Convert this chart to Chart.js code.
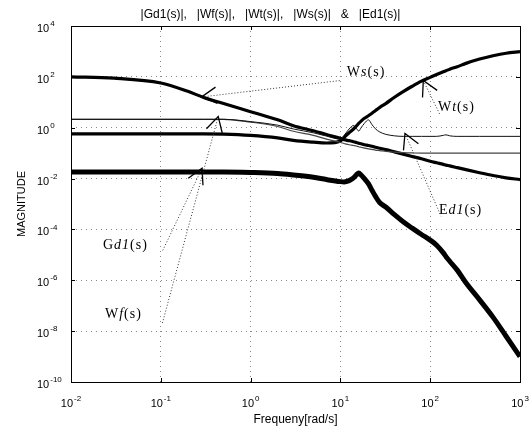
<!DOCTYPE html>
<html lang="en">
<head>
<meta charset="UTF-8" />
<title>|Gd1(s)|, |Wf(s)|, |Wt(s)|, |Ws(s)| &amp; |Ed1(s)|</title>
<script src="https://cdn.jsdelivr.net/npm/chart.js"></script>
<style>
  html, body { margin: 0; padding: 0; background: #fff; }
  #chart { display: block; }
</style>
</head>
<body>
<canvas id="chart" width="531" height="437"></canvas>
<script>
// frequency points [rad/s], shared by all curves
const freq = [0.01, 0.03, 0.1, 0.2, 0.3, 0.5, 1, 2, 3, 5, 7, 10, 11, 12.5, 14, 15, 16, 17, 18.5, 20.5,
              22.5, 24.5, 27.5, 32, 40, 50, 63, 80, 100, 118, 140, 150, 165, 200, 250, 355, 500, 700, 1000];

// |Gd1(s)|
const gd1 = [0.0182, 0.0182, 0.0182, 0.0182, 0.0182, 0.0182, 0.0174, 0.0158, 0.0138, 0.0112, 0.00912, 0.00759,
             0.00741, 0.00832, 0.0107, 0.0138, 0.0166, 0.0138, 0.01, 0.00631, 0.00347, 0.00204, 0.00112, 7.59e-4,
             3.80e-4, 2.0e-4, 1.12e-4, 6.31e-5, 3.80e-5, 2.40e-5, 1.20e-5, 8.51e-6, 5.62e-6, 2.51e-6, 7.94e-7,
             1.70e-7, 3.55e-8, 6.31e-9, 1.0e-9];
// |Wf(s)|
const wf = [2.14, 2.14, 2.14, 2.14, 2.14, 2.14, 1.66, 1.12, 0.724, 0.501, 0.355, 0.263, 0.240, 0.214, 0.2, 0.191,
            0.178, 0.170, 0.158, 0.148, 0.141, 0.132, 0.126, 0.117, 0.110, 0.105, 0.102, 0.1, 0.1, 0.1, 0.1, 0.1,
            0.1, 0.1, 0.1, 0.1, 0.1, 0.1, 0.1];
// |Wt(s)|
const wt = [0.575, 0.575, 0.575, 0.575, 0.575, 0.562, 0.501, 0.398, 0.316, 0.269, 0.251, 0.302, 0.417, 0.631,
            0.891, 1.15, 1.48, 1.82, 2.34, 2.95, 3.72, 4.68, 6.31, 8.91, 15.8, 26.3, 42.7, 67.6, 95.5, 123, 158,
            174, 200, 251, 339, 501, 676, 851, 977];
// |Ws(s)|
const ws = [100, 89.1, 57.5, 26.9, 15.5, 8.91, 4.27, 2.04, 1.2, 0.759, 0.537, 0.380, 0.339, 0.309, 0.282, 0.263,
            0.245, 0.234, 0.214, 0.2, 0.186, 0.170, 0.155, 0.138, 0.112, 0.0912, 0.0741, 0.0603, 0.0479, 0.0417,
            0.0363, 0.0339, 0.0316, 0.0269, 0.0224, 0.0170, 0.0132, 0.0107, 0.00912];
// |Ed1(s)|
const ed1 = [2.14, 2.14, 2.14, 2.14, 2.14, 2.14, 1.74, 1.26, 0.891, 0.631, 0.468, 0.355, 0.501, 0.891, 1.23,
             0.955, 0.741, 1.0, 1.48, 2.04, 1.32, 0.912, 0.676, 0.550, 0.479, 0.457, 0.457, 0.457, 0.457, 0.457,
             0.501, 0.525, 0.479, 0.457, 0.457, 0.457, 0.457, 0.457, 0.457];

// decade exponents of the tick labels
const xTickExps = [-2, -1, 0, 1, 2, 3];
const yTickExps = [4, 2, 0, -2, -4, -6, -8, -10];

const titleText = "|Gd1(s)|,   |Wf(s)|,   |Wt(s)|,   |Ws(s)|   &   |Ed1(s)|";

// curve labels: text pieces (roman / italic), arrow tip, end of dotted leader, text anchor (all in data units)
const notes = [
    { parts: [["W", ""], ["s", "italic "], ["(s)", ""]], tip: [0.285, 16.2], end: [9.9, 71.6], at: [11.8, 148] },
    { parts: [["W", ""], ["t", "italic "], ["(s)", ""]], tip: [83.8, 71.6], end: [128, 3.33], at: [122, 6.25] },
    { parts: [["E", ""], ["d1", "italic "], ["(s)", ""]], tip: [52.4, 0.597], end: [132, 3.3e-4], at: [125, 5.7e-4] },
    { parts: [["G", ""], ["d1", "italic "], ["(s)", ""]], tip: [0.288, 0.0254], end: [0.103, 1.29e-5], at: [0.0227, 2.45e-5] },
    { parts: [["W", ""], ["f", "italic "], ["(s)", ""]], tip: [0.436, 2.77], end: [0.103, 1.78e-8], at: [0.0239, 4.4e-8] },
];

const SANS = "'Liberation Sans', Arial, sans-serif";
const SERIF = "'Liberation Serif', 'Times New Roman', serif";

const toPoints = (vals) => freq.map((f, i) => ({ x: f, y: vals[i] }));

const line = (label, vals, width, color) => ({
    label: label,
    data: toPoints(vals),
    borderColor: color,
    borderWidth: width,
    pointRadius: 0,
    cubicInterpolationMode: "monotone",
    fill: false,
});

const data = {
    datasets: [
        line("Ed1", ed1, 1, "#111"),
        line("Wf", wf, 1.2, "#444"),
        line("Ws", ws, 3.2, "#000"),
        line("Wt", wt, 3.2, "#000"),
        line("Gd1", gd1, 5, "#000"),
    ],
};

function drawPow(ctx, e, x, y, align) {
    ctx.font = "11px " + SANS;
    const wb = ctx.measureText("10").width;
    ctx.font = "8px " + SANS;
    const we = ctx.measureText(String(e)).width;
    const start = align === "center" ? x - (wb + we + 1) / 2 : x;
    ctx.font = "11px " + SANS;
    ctx.fillText("10", start, y);
    ctx.font = "8px " + SANS;
    ctx.fillText(String(e), start + wb + 1, y - 5);
}

const decor = {
    id: "decor",
    afterDraw(chart) {
        const { ctx, chartArea: a } = chart;
        const x = chart.scales.x, y = chart.scales.y;
        ctx.save();

        // box
        ctx.strokeStyle = "#000";
        ctx.lineWidth = 1;
        ctx.setLineDash([]);
        ctx.strokeRect(Math.round(a.left) + 0.5, Math.round(a.top) + 0.5,
                       Math.round(a.right - a.left), Math.round(a.bottom - a.top));

        // small inward ticks
        ctx.beginPath();
        xTickExps.forEach((e) => {
            const px = Math.round(x.getPixelForValue(10 ** e)) + 0.5;
            ctx.moveTo(px, a.bottom); ctx.lineTo(px, a.bottom - 4);
            ctx.moveTo(px, a.top); ctx.lineTo(px, a.top + 4);
        });
        yTickExps.forEach((e) => {
            const py = Math.round(y.getPixelForValue(10 ** e)) + 0.5;
            ctx.moveTo(a.left, py); ctx.lineTo(a.left + 4, py);
            ctx.moveTo(a.right, py); ctx.lineTo(a.right - 4, py);
        });
        ctx.stroke();

        // tick labels
        ctx.fillStyle = "#000";
        ctx.textBaseline = "middle";
        ctx.textAlign = "left";
        xTickExps.forEach((e) => drawPow(ctx, e, x.getPixelForValue(10 ** e), a.bottom + 22, "center"));
        yTickExps.forEach((e) => drawPow(ctx, e, a.left - 34, y.getPixelForValue(10 ** e) + 3, "left"));

        // title
        ctx.font = "12px " + SANS;
        ctx.textAlign = "center";
        ctx.fillText(titleText, chart.width / 2 + 5, 15);

        // curve labels with dotted leaders
        notes.forEach((n) => {
            const tx = x.getPixelForValue(n.tip[0]), ty = y.getPixelForValue(n.tip[1]);
            const ex = x.getPixelForValue(n.end[0]), ey = y.getPixelForValue(n.end[1]);
            ctx.strokeStyle = "#333";
            ctx.lineWidth = 1;
            ctx.setLineDash([1, 2]);
            ctx.beginPath();
            ctx.moveTo(tx, ty); ctx.lineTo(ex, ey);
            ctx.stroke();

            const ang = Math.atan2(ey - ty, ex - tx);
            ctx.setLineDash([]);
            ctx.strokeStyle = "#000";
            ctx.lineWidth = 1.3;
            ctx.beginPath();
            ctx.moveTo(tx + 17 * Math.cos(ang - 0.5), ty + 17 * Math.sin(ang - 0.5));
            ctx.lineTo(tx, ty);
            ctx.lineTo(tx + 17 * Math.cos(ang + 0.5), ty + 17 * Math.sin(ang + 0.5));
            ctx.stroke();

            let px = x.getPixelForValue(n.at[0]);
            const py = y.getPixelForValue(n.at[1]);
            ctx.textAlign = "left";
            ctx.letterSpacing = "1px";
            n.parts.forEach(([txt, style]) => {
                ctx.font = style + "14px " + SERIF;
                ctx.fillText(txt, px, py);
                px += ctx.measureText(txt).width;
            });
            ctx.letterSpacing = "0px";
        });
        ctx.restore();
    },
};

const options = {
    responsive: false,
    animation: false,
    layout: { padding: { top: 26, right: 11, bottom: 0, left: 0 } },
    plugins: {
        legend: { display: false },
        title: { display: false },
        tooltip: { enabled: false },
    },
    scales: {
        x: {
            type: "logarithmic",
            position: "bottom",
            min: 0.01,
            max: 1000,
            afterBuildTicks: (scale) => { scale.ticks = xTickExps.map((e) => ({ value: 10 ** e })); },
            afterFit: (scale) => { scale.height = 55; },
            ticks: { display: false },
            grid: { color: "#8a8a8a", lineWidth: 1, drawTicks: false },
            border: { display: false, dash: [1, 4] },
            title: {
                display: true,
                text: "Frequeny[rad/s]",
                color: "#000",
                font: { family: SANS, size: 12 },
                padding: { top: 0, bottom: 10 },
            },
        },
        y: {
            type: "logarithmic",
            position: "left",
            min: 1e-10,
            max: 1e4,
            afterBuildTicks: (scale) => { scale.ticks = yTickExps.map((e) => ({ value: 10 ** e })); },
            afterFit: (scale) => { scale.width = 71; },
            ticks: { display: false },
            grid: { color: "#8a8a8a", lineWidth: 1, drawTicks: false },
            border: { display: false, dash: [1, 4] },
            title: {
                display: true,
                text: "MAGNITUDE",
                color: "#000",
                font: { family: SANS, size: 11 },
                padding: { top: 15, bottom: 0 },
            },
        },
    },
};

new Chart("chart", {
    type: "line",
    data: data,
    options: options,
    plugins: [decor],
});
</script>
</body>
</html>
